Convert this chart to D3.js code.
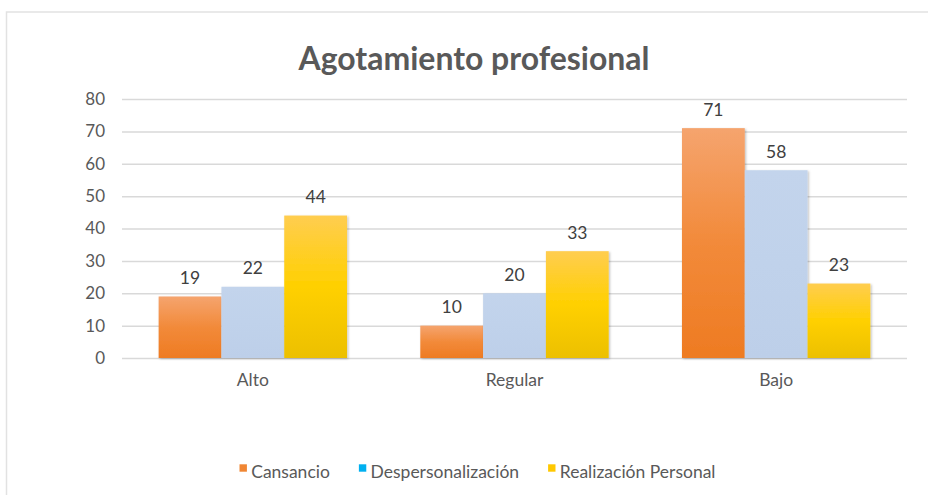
<!DOCTYPE html>
<html>
<head>
<meta charset="utf-8">
<script src="https://cdn.jsdelivr.net/npm/d3@7"></script>
<style>
  body { margin: 0; background: #fff; }
  text { font-family: Lato, "Open Sans", sans-serif; }
</style>
</head>
<body>
<div id="chart"></div>
<script>
// data
const categories = ["Alto", "Regular", "Bajo"];
const seriesNames = ["Cansancio", "Despersonalización", "Realización Personal"];
const cansancio = [19, 10, 71];
const despersonalizacion = [22, 20, 58];
const realizacion = [44, 33, 23];
const yTicks = [0, 10, 20, 30, 40, 50, 60, 70, 80];

const seriesValues = [cansancio, despersonalizacion, realizacion];
const data = categories.map((c, i) => ({
  cat: c,
  vals: seriesNames.map((s, j) => ({ key: s, value: seriesValues[j][i] }))
}));

// set the dimensions
const width = 928, height = 495;
const plot = { left: 122, right: 907, top: 99, bottom: 358 };

const svg = d3.select("#chart")
  .append("svg")
  .attr("width", width)
  .attr("height", height);

// gradients for the bars (office style)
const defs = svg.append("defs");
const grads = [
  { id: "g0", stops: ["#F5A46E", "#F28A3A", "#EE7B22"] },
  { id: "g1", stops: ["#C3D4EC", "#C0D2EB", "#BDCFE9"] },
  { id: "g2", stops: ["#FFCD50", "#FFD000", "#ECC000"] }
];
grads.forEach(g => {
  const lg = defs.append("linearGradient")
    .attr("id", g.id)
    .attr("x1", 0).attr("y1", 0).attr("x2", 0).attr("y2", 1);
  g.stops.forEach((c, i) => {
    lg.append("stop").attr("offset", i / (g.stops.length - 1)).attr("stop-color", c);
  });
});
defs.append("filter")
  .attr("id", "shadow")
  .attr("x", "-10%").attr("y", "-10%").attr("width", "130%").attr("height", "130%")
  .append("feDropShadow")
  .attr("dx", 1.2).attr("dy", 1).attr("stdDeviation", 1)
  .attr("flood-color", "#000").attr("flood-opacity", 0.25);

const legendColors = ["#F08633", "#00B0F0", "#FFC800"];

// chart frame
svg.append("path")
  .attr("d", `M6.5,${height + 2}V12H${width + 2}`)
  .attr("fill", "none")
  .attr("stroke", "#e2e2e2")
  .attr("stroke-width", 1.5);

// title
const title = svg.append("text")
  .attr("x", 474)
  .attr("y", 70)
  .attr("text-anchor", "middle")
  .attr("font-weight", 700)
  .attr("font-size", 30)
  .attr("fill", "#595959")
  .text("Agotamiento profesional");
const tw = title.node().getComputedTextLength();
title.attr("font-size", 30 * 351 / tw);

// scales
const x0 = d3.scaleBand()
  .domain(categories)
  .range([plot.left, plot.right])
  .paddingInner(0.28)
  .paddingOuter(0.14);
const x1 = d3.scaleBand()
  .domain(seriesNames)
  .range([0, x0.bandwidth()]);
const y = d3.scaleLinear()
  .domain([0, 80])
  .range([plot.bottom, plot.top]);

// gridlines
svg.append("g")
  .attr("transform", `translate(${plot.left},0)`)
  .call(d3.axisLeft(y).tickValues(yTicks).tickSize(-(plot.right - plot.left)).tickFormat(""))
  .call(g => g.select(".domain").remove())
  .call(g => g.selectAll("line").attr("stroke", "#d9d9d9").attr("stroke-width", 1.5));

// y axis labels
svg.append("g")
  .attr("transform", `translate(${plot.left},0)`)
  .call(d3.axisLeft(y).tickValues(yTicks).tickSize(0).tickPadding(17))
  .call(g => g.select(".domain").remove())
  .call(g => g.selectAll("text")
    .attr("font-size", 17)
    .attr("fill", "#595959")
    .attr("font-family", "Lato, sans-serif"));

// x axis labels
svg.append("g")
  .attr("transform", `translate(0,${plot.bottom})`)
  .call(d3.axisBottom(x0).tickSize(0).tickPadding(16))
  .call(g => g.select(".domain").remove())
  .call(g => g.selectAll("text")
    .attr("font-size", 17.5)
    .attr("fill", "#595959")
    .attr("font-family", "Lato, sans-serif"));

// bars
const groups = svg.append("g")
  .selectAll("g")
  .data(data)
  .join("g")
  .attr("transform", d => `translate(${x0(d.cat)},0)`);

groups.selectAll("rect")
  .data(d => d.vals)
  .join("rect")
  .attr("x", d => x1(d.key))
  .attr("y", d => y(d.value))
  .attr("width", x1.bandwidth())
  .attr("height", d => y(0) - y(d.value))
  .attr("fill", (d, i) => `url(#g${i})`)
  .attr("filter", "url(#shadow)");

// data labels
groups.selectAll("text.lbl")
  .data(d => d.vals)
  .join("text")
  .attr("class", "lbl")
  .attr("x", d => x1(d.key) + x1.bandwidth() / 2)
  .attr("y", d => y(d.value) - 12.5)
  .attr("text-anchor", "middle")
  .attr("font-size", 17.5)
  .attr("fill", "#404040")
  .text(d => d.value);

// legend
const legend = svg.append("g")
  .attr("font-size", 17.5)
  .attr("fill", "#595959");
const items = legend.selectAll("g")
  .data(seriesNames)
  .join("g");
items.append("rect")
  .attr("y", 464.3)
  .attr("width", 7.4)
  .attr("height", 7.4)
  .attr("fill", (d, i) => legendColors[i]);
items.append("text")
  .attr("x", 11.7)
  .attr("y", 477.8)
  .text(d => d);
let cx = 0;
const offs = [];
items.each(function() {
  offs.push(cx);
  const w = d3.select(this).select("text").node().getComputedTextLength();
  cx += 11.7 + w + 29;
});
const total = cx - 29;
const start = 477.5 - total / 2;
items.attr("transform", (d, i) => `translate(${start + offs[i]},0)`);
</script>
</body>
</html>
